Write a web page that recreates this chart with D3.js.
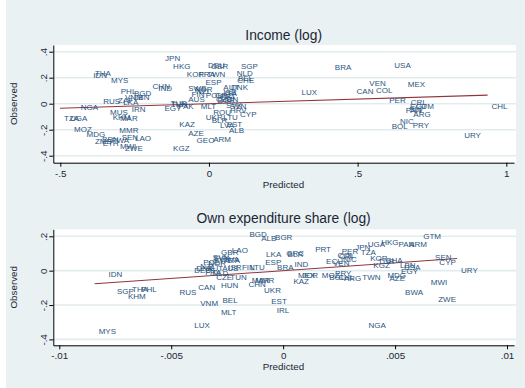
<!DOCTYPE html>
<html>
<head>
<meta charset="utf-8">
<script src="https://cdn.jsdelivr.net/npm/d3@7"></script>
<style>
  html, body { margin: 0; padding: 0; background: #ffffff; }
  svg { display: block; font-family: "Liberation Sans", Arial, Helvetica, sans-serif; }
</style>
</head>
<body>
<svg id="chart" width="525" height="388"></svg>
<script>
// ---------- Income (log): country, predicted, observed ----------
const incomeCodes = ["JPN","HKG","KOR","FRA","TWN","DEU","GBR","SGP","NLD","CHE","BEL","ESP","SWE","NOR","NZL","FIN","POL","GRC","AUT","DNK","ISR","ITA","AUS","BGR","HUN","PRT","CZE","SVK","SVN","HRV","CYP","ROU","MLT","UKR","BLR","LTU","LVA","EST","ALB","GEO","ARM","AZE","KAZ","KGZ","TUR","TUN","EGY","PAK","CHN","IND","PHL","BGD","VNM","LBN","RUS","ZAF","LKA","IRN","THA","IDN","MYS","NGA","TZA","UGA","MUS","KHM","MAR","MOZ","MDG","MMR","SEN","LAO","ZMB","BEN","ETH","RWA","MWI","ZWE","LUX","BRA","USA","VEN","MEX","CAN","COL","PER","CRI","ECU","GTM","PAN","SLV","ARG","NIC","BOL","PRY","URY","CHL"];
const incomePredicted = [-0.161,-0.134,-0.088,-0.047,-0.020,-0.017,-0.007,0.094,0.080,0.082,0.084,-0.025,-0.083,-0.061,-0.057,-0.072,-0.024,0.007,0.035,0.061,0.035,0.040,-0.083,0.015,0.027,0.024,0.010,0.044,0.057,0.057,0.091,0.001,-0.041,-0.024,-0.004,0.035,0.024,0.046,0.054,-0.055,0.001,-0.083,-0.113,-0.134,-0.143,-0.141,-0.163,-0.117,-0.203,-0.184,-0.310,-0.266,-0.296,-0.266,-0.369,-0.319,-0.302,-0.273,-0.397,-0.403,-0.343,-0.445,-0.501,-0.481,-0.346,-0.337,-0.313,-0.467,-0.425,-0.315,-0.307,-0.262,-0.397,-0.373,-0.371,-0.343,-0.313,-0.296,0.298,0.410,0.610,0.526,0.655,0.483,0.548,0.593,0.665,0.663,0.683,0.648,0.659,0.674,0.629,0.601,0.672,0.845,0.937];
const incomeObserved = [0.349,0.290,0.228,0.228,0.225,0.294,0.286,0.292,0.238,0.182,0.198,0.165,0.118,0.109,0.097,0.072,0.067,0.063,0.126,0.126,0.092,0.078,0.034,0.025,0.032,0.059,0.036,-0.010,-0.018,-0.048,-0.079,-0.069,-0.023,-0.106,-0.125,-0.106,-0.164,-0.158,-0.202,-0.279,-0.272,-0.228,-0.156,-0.343,0.002,-0.002,-0.033,-0.023,0.138,0.118,0.100,0.080,0.049,0.049,0.023,0.028,0.008,-0.041,0.238,0.221,0.180,-0.028,-0.108,-0.110,-0.069,-0.100,-0.112,-0.197,-0.238,-0.202,-0.254,-0.262,-0.285,-0.275,-0.305,-0.279,-0.325,-0.343,0.092,0.280,0.298,0.157,0.152,0.100,0.105,0.028,0.013,-0.018,-0.018,-0.048,-0.041,-0.082,-0.138,-0.172,-0.166,-0.241,-0.018];
const incomeFit = [0.0, 0.07];            // intercept, slope of the linear fit
const incomeXTicks = [-0.5, 0, 0.5, 1];
const incomeXTickLabels = ["-.5", "0", ".5", "1"];
const incomeYTicks = [-0.4, -0.2, 0, 0.2, 0.4];
const incomeYTickLabels = ["-.4", "-.2", "0", ".2", ".4"];

// ---------- Own expenditure share (log): country, predicted, observed ----------
const shareCodes = ["MYS","IDN","SGP","THA","PHL","KHM","RUS","CAN","VNM","LUX","BEL","MLT","HUN","CZE","TUN","BGD","ALB","BGR","LAO","GBR","SVN","SVK","LVA","ITA","POL","NOR","SWE","DNK","DEU","AUT","FRA","NLD","NZL","AUS","ISR","FIN","LTU","LKA","GRC","BLR","PRT","ESP","BRA","IND","MEX","JOR","KAZ","CHN","MMR","MAR","UKR","EST","IRL","GTM","HKG","UGA","PAN","ARM","JPN","PER","TZA","COL","CRI","NIC","ECU","VEN","KOR","TUR","GHA","KGZ","LBN","USA","EGY","SEN","CYP","URY","MWI","BWA","ZWE","NGA","MDG","AZE","ARG","TWN","PRY","MOZ","BOL","CHL"];
const sharePredicted = [-0.00842,-0.00798,-0.00760,-0.00693,-0.00652,-0.00711,-0.00481,-0.00397,-0.00388,-0.00415,-0.00289,-0.00296,-0.00296,-0.00317,-0.00254,-0.00168,-0.00116,-0.00054,-0.00247,-0.00295,-0.00332,-0.00330,-0.00277,-0.00263,-0.00375,-0.00353,-0.00326,-0.00406,-0.00415,-0.00357,-0.00366,-0.00335,-0.00388,-0.00290,-0.00263,-0.00202,-0.00165,-0.00094,-0.00004,0.00002,0.00125,-0.00098,-0.00045,0.00033,0.00049,0.00067,0.00028,-0.00173,-0.00143,-0.00158,-0.00103,-0.00071,-0.00046,0.00608,0.00420,0.00360,0.00497,0.00545,0.00304,0.00244,0.00329,0.00225,0.00232,0.00249,0.00174,0.00205,0.00371,0.00406,0.00438,0.00385,0.00504,0.00522,0.00509,0.00661,0.00680,0.00777,0.00642,0.00527,0.00675,0.00363,0.00448,0.00457,0.00254,0.00336,0.00214,0.00155,0.00188,0.00228];
const shareObserved = [-0.351,-0.019,-0.122,-0.106,-0.106,-0.151,-0.128,-0.097,-0.188,-0.316,-0.170,-0.244,-0.083,-0.040,-0.037,0.212,0.188,0.192,0.120,0.105,0.081,0.074,0.066,0.062,0.047,0.045,0.062,0.012,0.001,0.013,-0.008,-0.016,0.027,0.013,0.019,0.022,0.022,0.097,0.101,0.098,0.126,0.047,0.023,0.037,-0.025,-0.028,-0.060,-0.077,-0.054,-0.057,-0.112,-0.180,-0.228,0.203,0.165,0.153,0.153,0.153,0.134,0.112,0.107,0.091,0.085,0.066,0.056,0.045,0.070,0.056,0.062,0.029,0.030,0.019,-0.002,0.076,0.049,0.004,-0.070,-0.128,-0.165,-0.316,-0.025,-0.044,-0.044,-0.038,-0.012,-0.025,-0.038,-0.040];
const shareFit = [0.0, 9.07];             // intercept, slope of the linear fit
const shareXTicks = [-0.01, -0.005, 0, 0.005, 0.01];
const shareXTickLabels = ["-.01", "-.005", "0", ".005", ".01"];
const shareYTicks = [-0.4, -0.2, 0, 0.2];
const shareYTickLabels = ["-.4", "-.2", "0", ".2"];

// ---------- styling ----------
const BG = "#e9f1f3";
const GRID = "#e2ebee";
const LABEL_COLOR = "#2b5580";
const FIT_COLOR = "#90353b";
const TEXT_COLOR = "#1c2733";

const svg = d3.select("#chart");
svg.append("rect").attr("x", 0).attr("y", 0).attr("width", 525).attr("height", 388).attr("fill", "#ffffff");
svg.append("rect").attr("x", 6).attr("y", 0).attr("width", 519).attr("height", 388).attr("fill", BG);

function drawPanel(p) {
  const g = svg.append("g");
  const box = p.box;

  // scales: calibrated on two ticks, then stretched to the plot region
  const x = d3.scaleLinear().domain(p.xCal).range(p.xCalPx);
  x.domain([x.invert(box.left), x.invert(box.right)]).range([box.left, box.right]);
  const y = d3.scaleLinear().domain(p.yCal).range(p.yCalPx);
  y.domain([y.invert(box.bottom), y.invert(box.top)]).range([box.bottom, box.top]);

  // plot region
  g.append("rect")
    .attr("x", box.left).attr("y", box.top)
    .attr("width", box.right - box.left + 2).attr("height", box.bottom - box.top)
    .attr("fill", "#ffffff");

  // horizontal grid
  g.selectAll("line.grid").data(p.yTicks).join("line")
    .attr("class", "grid")
    .attr("x1", box.left).attr("x2", box.right + 2)
    .attr("y1", d => y(d)).attr("y2", d => y(d))
    .attr("stroke", GRID).attr("stroke-width", 1.6);

  // fitted line across the range of predicted values
  const xr = d3.extent(p.xs);
  const fitPts = xr.map(v => [v, p.fit[0] + p.fit[1] * v]);
  g.append("path")
    .attr("d", d3.line().x(d => x(d[0])).y(d => y(d[1]))(fitPts))
    .attr("stroke", FIT_COLOR).attr("stroke-width", 1.1).attr("fill", "none");

  // country labels placed at 3 o'clock of each point
  const pts = p.codes.map((c, i) => ({ c, px: p.xs[i], py: p.ys[i] }));
  g.selectAll("text.mlab").data(pts).join("text")
    .attr("class", "mlab")
    .attr("x", d => x(d.px) + 4)
    .attr("y", d => y(d.py))
    .attr("dy", "0.35em")
    .attr("font-size", 8)
    .attr("fill", LABEL_COLOR)
    .text(d => d.c);

  // x axis
  const xAxis = d3.axisBottom(x)
    .tickValues(p.xTicks)
    .tickFormat((d, i) => p.xTickLabels[i])
    .tickSizeOuter(0).tickSizeInner(4).tickPadding(3);
  const gx = g.append("g").attr("transform", `translate(0,${box.bottom})`).call(xAxis);
  gx.select(".domain").attr("stroke", "#000").attr("stroke-width", 1);
  gx.selectAll(".tick line").attr("stroke", "#000");
  gx.selectAll(".tick text")
    .attr("font-size", 9.8).attr("fill", TEXT_COLOR)
    .attr("font-family", "Liberation Sans, Arial, sans-serif");

  // y axis with rotated labels
  const yAxis = d3.axisLeft(y)
    .tickValues(p.yTicks)
    .tickFormat((d, i) => p.yTickLabels[i])
    .tickSizeOuter(0).tickSizeInner(4);
  const gy = g.append("g").attr("transform", `translate(${box.left},0)`).call(yAxis);
  gy.select(".domain").attr("stroke", "#000").attr("stroke-width", 1);
  gy.selectAll(".tick line").attr("stroke", "#000");
  gy.selectAll(".tick text")
    .attr("x", null).attr("dy", null)
    .attr("font-size", 9.8).attr("fill", TEXT_COLOR)
    .attr("font-family", "Liberation Sans, Arial, sans-serif")
    .attr("text-anchor", "middle")
    .attr("transform", "translate(-6,0) rotate(-90)");

  // titles
  g.append("text")
    .attr("x", (box.left + box.right) / 2).attr("y", p.titleY)
    .attr("text-anchor", "middle").attr("font-size", 13.8).attr("fill", TEXT_COLOR)
    .text(p.title);
  g.append("text")
    .attr("x", 283.5).attr("y", p.xTitleY)
    .attr("text-anchor", "middle").attr("font-size", 9.8).attr("fill", TEXT_COLOR)
    .text("Predicted");
  g.append("text")
    .attr("transform", `translate(17,${(box.top + box.bottom) / 2}) rotate(-90)`)
    .attr("text-anchor", "middle").attr("font-size", 9.8).attr("fill", TEXT_COLOR)
    .text("Observed");
}

drawPanel({
  title: "Income (log)", titleY: 39.5, xTitleY: 187.5,
  box: { left: 53.3, right: 514, top: 45, bottom: 162.7 },
  xCal: [-0.5, 1], xCalPx: [60.3, 506.3],
  yCal: [-0.4, 0.4], yCalPx: [155.7, 51.7],
  codes: incomeCodes, xs: incomePredicted, ys: incomeObserved, fit: incomeFit,
  xTicks: incomeXTicks, xTickLabels: incomeXTickLabels,
  yTicks: incomeYTicks, yTickLabels: incomeYTickLabels
});

drawPanel({
  title: "Own expenditure share (log)", titleY: 223, xTitleY: 370,
  box: { left: 53.3, right: 514, top: 229.3, bottom: 345.3 },
  xCal: [-0.01, 0.01], xCalPx: [59.3, 507],
  yCal: [-0.4, 0.2], yCalPx: [339.4, 236.3],
  codes: shareCodes, xs: sharePredicted, ys: shareObserved, fit: shareFit,
  xTicks: shareXTicks, xTickLabels: shareXTickLabels,
  yTicks: shareYTicks, yTickLabels: shareYTickLabels
});
</script>
</body>
</html>
